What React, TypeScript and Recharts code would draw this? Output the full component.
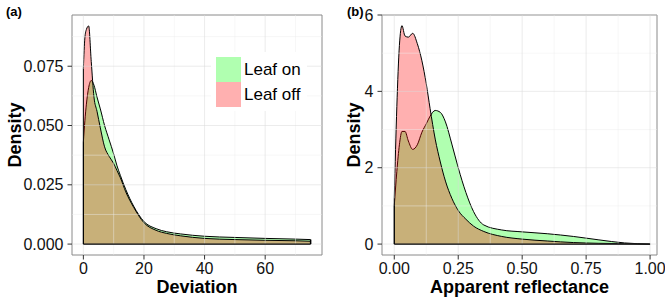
import { Area, ComposedChart, ReferenceArea, ReferenceLine, XAxis, YAxis } from 'recharts'

// (a) deviation densities
const deviationX = [0, 0.5, 1, 1.75, 2.6, 3.5, 4.5, 5.6, 7, 8.5, 10, 11.1, 12.2, 14, 16.6, 20, 24, 27.5, 32, 40, 50, 60, 70, 75]
const deviationLeafOn = [0.043, 0.052, 0.059, 0.066, 0.069, 0.067, 0.062, 0.057, 0.05, 0.044, 0.038, 0.033, 0.029, 0.023, 0.016, 0.0095, 0.0065, 0.0052, 0.0043, 0.0033, 0.0028, 0.0024, 0.0021, 0.0019]
const deviationLeafOff = [0.074, 0.087, 0.0905, 0.092, 0.077, 0.062, 0.056, 0.049, 0.041, 0.037, 0.034, 0.031, 0.028, 0.022, 0.0155, 0.009, 0.0058, 0.0045, 0.0035, 0.0024, 0.0019, 0.0016, 0.0014, 0.0012]
const deviationXTicks = [0, 20, 40, 60]
const deviationXMinor = [10, 30, 50, 70]
const deviationYTicks = [0, 0.025, 0.05, 0.075]
const deviationYMinor = [0.0125, 0.0375, 0.0625, 0.0875]

// (b) apparent reflectance densities
const reflectanceX = [0, 0.01, 0.02, 0.03, 0.042, 0.055, 0.072, 0.09, 0.108, 0.125, 0.14, 0.16, 0.18, 0.2, 0.225, 0.25, 0.28, 0.31, 0.35, 0.42, 0.5, 0.6, 0.7, 0.8, 0.9, 1]
const reflectanceLeafOn = [1.0, 1.9, 2.6, 2.95, 2.95, 2.7, 2.48, 2.6, 2.93, 3.15, 3.35, 3.5, 3.45, 3.2, 2.62, 2.0, 1.35, 0.85, 0.5, 0.37, 0.32, 0.27, 0.2, 0.11, 0.03, 0]
const reflectanceLeafOff = [1.2, 3.6, 5.2, 5.72, 5.45, 5.42, 5.52, 5.25, 4.8, 4.2, 3.55, 2.75, 2.15, 1.65, 1.2, 0.88, 0.65, 0.47, 0.33, 0.2, 0.13, 0.08, 0.04, 0.02, 0.01, 0]
const reflectanceXTicks = [0, 0.25, 0.5, 0.75, 1]
const reflectanceXMinor = [0.125, 0.375, 0.625, 0.875]
const reflectanceYTicks = [0, 2, 4, 6]
const reflectanceYMinor = [1, 3, 5]

const seriesNames = ['Leaf on', 'Leaf off']
const seriesColors = ['#00ff00', '#ff0000']
const keyColors = ['#b0ffb0', '#ffb0b0']

const font = '"Liberation Sans", Arial, Helvetica, sans-serif'

interface PanelProps {
  tag: string
  left: number
  xs: number[]
  on: number[]
  off: number[]
  xTicks: number[]
  xMinor: number[]
  yTicks: number[]
  yMinor: number[]
  xDomain: [number, number]
  yDomain: [number, number]
  xLabel: string
  xFormat: (v: number) => string
  yFormat: (v: number) => string
  yAxisWidth: number
  yLabelOffset: number
  showLegend?: boolean
}

function LegendBox() {
  return (
    <div style={{ position: 'absolute', left: 211, top: 52, background: '#fff', padding: '5px 6px 4px 5px', fontFamily: font }}>
      {seriesNames.map((name, i) => (
        <div key={name} style={{ display: 'flex', alignItems: 'center', height: 25 }}>
          <div style={{ width: 25, height: 25, background: keyColors[i] }} />
          <span style={{ marginLeft: 3, fontSize: 17, color: '#000', lineHeight: '25px' }}>{name}</span>
        </div>
      ))}
    </div>
  )
}

function Panel(p: PanelProps) {
  const data = p.xs.map((x, i) => ({ x, on: p.on[i], off: p.off[i] }))
  const first = p.xs[0]
  const last = p.xs[p.xs.length - 1]
  const tickStyle = { fill: '#111', fontSize: 16, fontFamily: font }
  return (
    <div style={{ position: 'absolute', left: p.left, top: 0, width: 332, height: 299 }}>
      <ComposedChart width={332} height={299} data={data} margin={{ top: 15, right: p.left === 0 ? 10 : 8, left: 0, bottom: 0 }}>
        <XAxis
          dataKey="x"
          type="number"
          domain={p.xDomain}
          ticks={p.xTicks}
          tickFormatter={p.xFormat}
          allowDataOverflow
          axisLine={false}
          tickLine={{ stroke: '#333' }}
          tickSize={4.5}
          tickMargin={3.5}
          tick={tickStyle}
          height={44}
          label={{ value: p.xLabel, position: 'insideBottom', offset: 6, style: { fontSize: 18, fontWeight: 700, fill: '#000', fontFamily: font } }}
        />
        <YAxis
          type="number"
          domain={p.yDomain}
          ticks={p.yTicks}
          tickFormatter={p.yFormat}
          allowDataOverflow
          axisLine={false}
          tickLine={{ stroke: '#333' }}
          tickSize={4.5}
          tickMargin={4}
          tick={tickStyle}
          width={p.yAxisWidth}
          label={{ value: 'Density', angle: -90, position: 'insideLeft', offset: p.yLabelOffset, style: { textAnchor: 'middle', fontSize: 18, fontWeight: 700, fill: '#000', fontFamily: font } }}
        />
        <Area type="monotone" dataKey="on" stroke="#000" strokeWidth={1} fill={seriesColors[0]} fillOpacity={0.31} dot={false} activeDot={false} isAnimationActive={false} />
        <Area type="monotone" dataKey="off" stroke="#000" strokeWidth={1} fill={seriesColors[1]} fillOpacity={0.31} dot={false} activeDot={false} isAnimationActive={false} />
        {p.xMinor.map((v) => (
          <ReferenceLine key={`xm${v}`} x={v} stroke="#eeeeee" strokeOpacity={0.45} strokeWidth={1} />
        ))}
        {p.yMinor.map((v) => (
          <ReferenceLine key={`ym${v}`} y={v} stroke="#eeeeee" strokeOpacity={0.45} strokeWidth={1} />
        ))}
        {p.xTicks.map((v) => (
          <ReferenceLine key={`x${v}`} x={v} stroke="#d9d9d9" strokeOpacity={0.5} strokeWidth={1} />
        ))}
        {p.yTicks.map((v) => (
          <ReferenceLine key={`y${v}`} y={v} stroke="#d9d9d9" strokeOpacity={0.5} strokeWidth={1} />
        ))}
        <ReferenceLine segment={[{ x: first, y: 0 }, { x: last, y: 0 }]} stroke="#000" strokeWidth={1.2} />
        <ReferenceLine segment={[{ x: first, y: 0 }, { x: first, y: p.off[0] }]} stroke="#000" strokeWidth={1} />
        <ReferenceLine segment={[{ x: first, y: 0 }, { x: first, y: p.on[0] }]} stroke="#000" strokeWidth={1} />
        <ReferenceLine segment={[{ x: last, y: 0 }, { x: last, y: p.on[p.on.length - 1] }]} stroke="#000" strokeWidth={1.5} />
        <ReferenceArea x1={p.xDomain[0]} x2={p.xDomain[1]} y1={p.yDomain[0]} y2={p.yDomain[1]} fill="none" stroke="#8a8a8a" strokeWidth={1} ifOverflow="visible" />
      </ComposedChart>
      {p.showLegend ? <LegendBox /> : null}
      <div style={{ position: 'absolute', left: p.left === 0 ? 6 : 14, top: 4, fontFamily: font, fontWeight: 700, fontSize: 13, color: '#000' }}>
        {p.tag}
      </div>
    </div>
  )
}

export default function App() {
  return (
    <div style={{ position: 'absolute', left: 0, top: 0, width: 665, height: 299, background: '#fff', overflow: 'hidden' }}>
      <Panel
        tag="(a)"
        left={0}
        xs={deviationX}
        on={deviationLeafOn}
        off={deviationLeafOff}
        xTicks={deviationXTicks}
        xMinor={deviationXMinor}
        yTicks={deviationYTicks}
        yMinor={deviationYMinor}
        xDomain={[-3.75, 78.75]}
        yDomain={[-0.0046, 0.0966]}
        xLabel="Deviation"
        xFormat={(v) => String(v)}
        yFormat={(v) => v.toFixed(3)}
        yAxisWidth={72}
        yLabelOffset={15}
        showLegend
      />
      <Panel
        tag="(b)"
        left={333}
        xs={reflectanceX}
        on={reflectanceLeafOn}
        off={reflectanceLeafOff}
        xTicks={reflectanceXTicks}
        xMinor={reflectanceXMinor}
        yTicks={reflectanceYTicks}
        yMinor={reflectanceYMinor}
        xDomain={[-0.048, 1.027]}
        yDomain={[-0.286, 6.0]}
        xLabel="Apparent reflectance"
        xFormat={(v) => v.toFixed(2)}
        yFormat={(v) => String(v)}
        yAxisWidth={49}
        yLabelOffset={21}
      />
    </div>
  )
}
